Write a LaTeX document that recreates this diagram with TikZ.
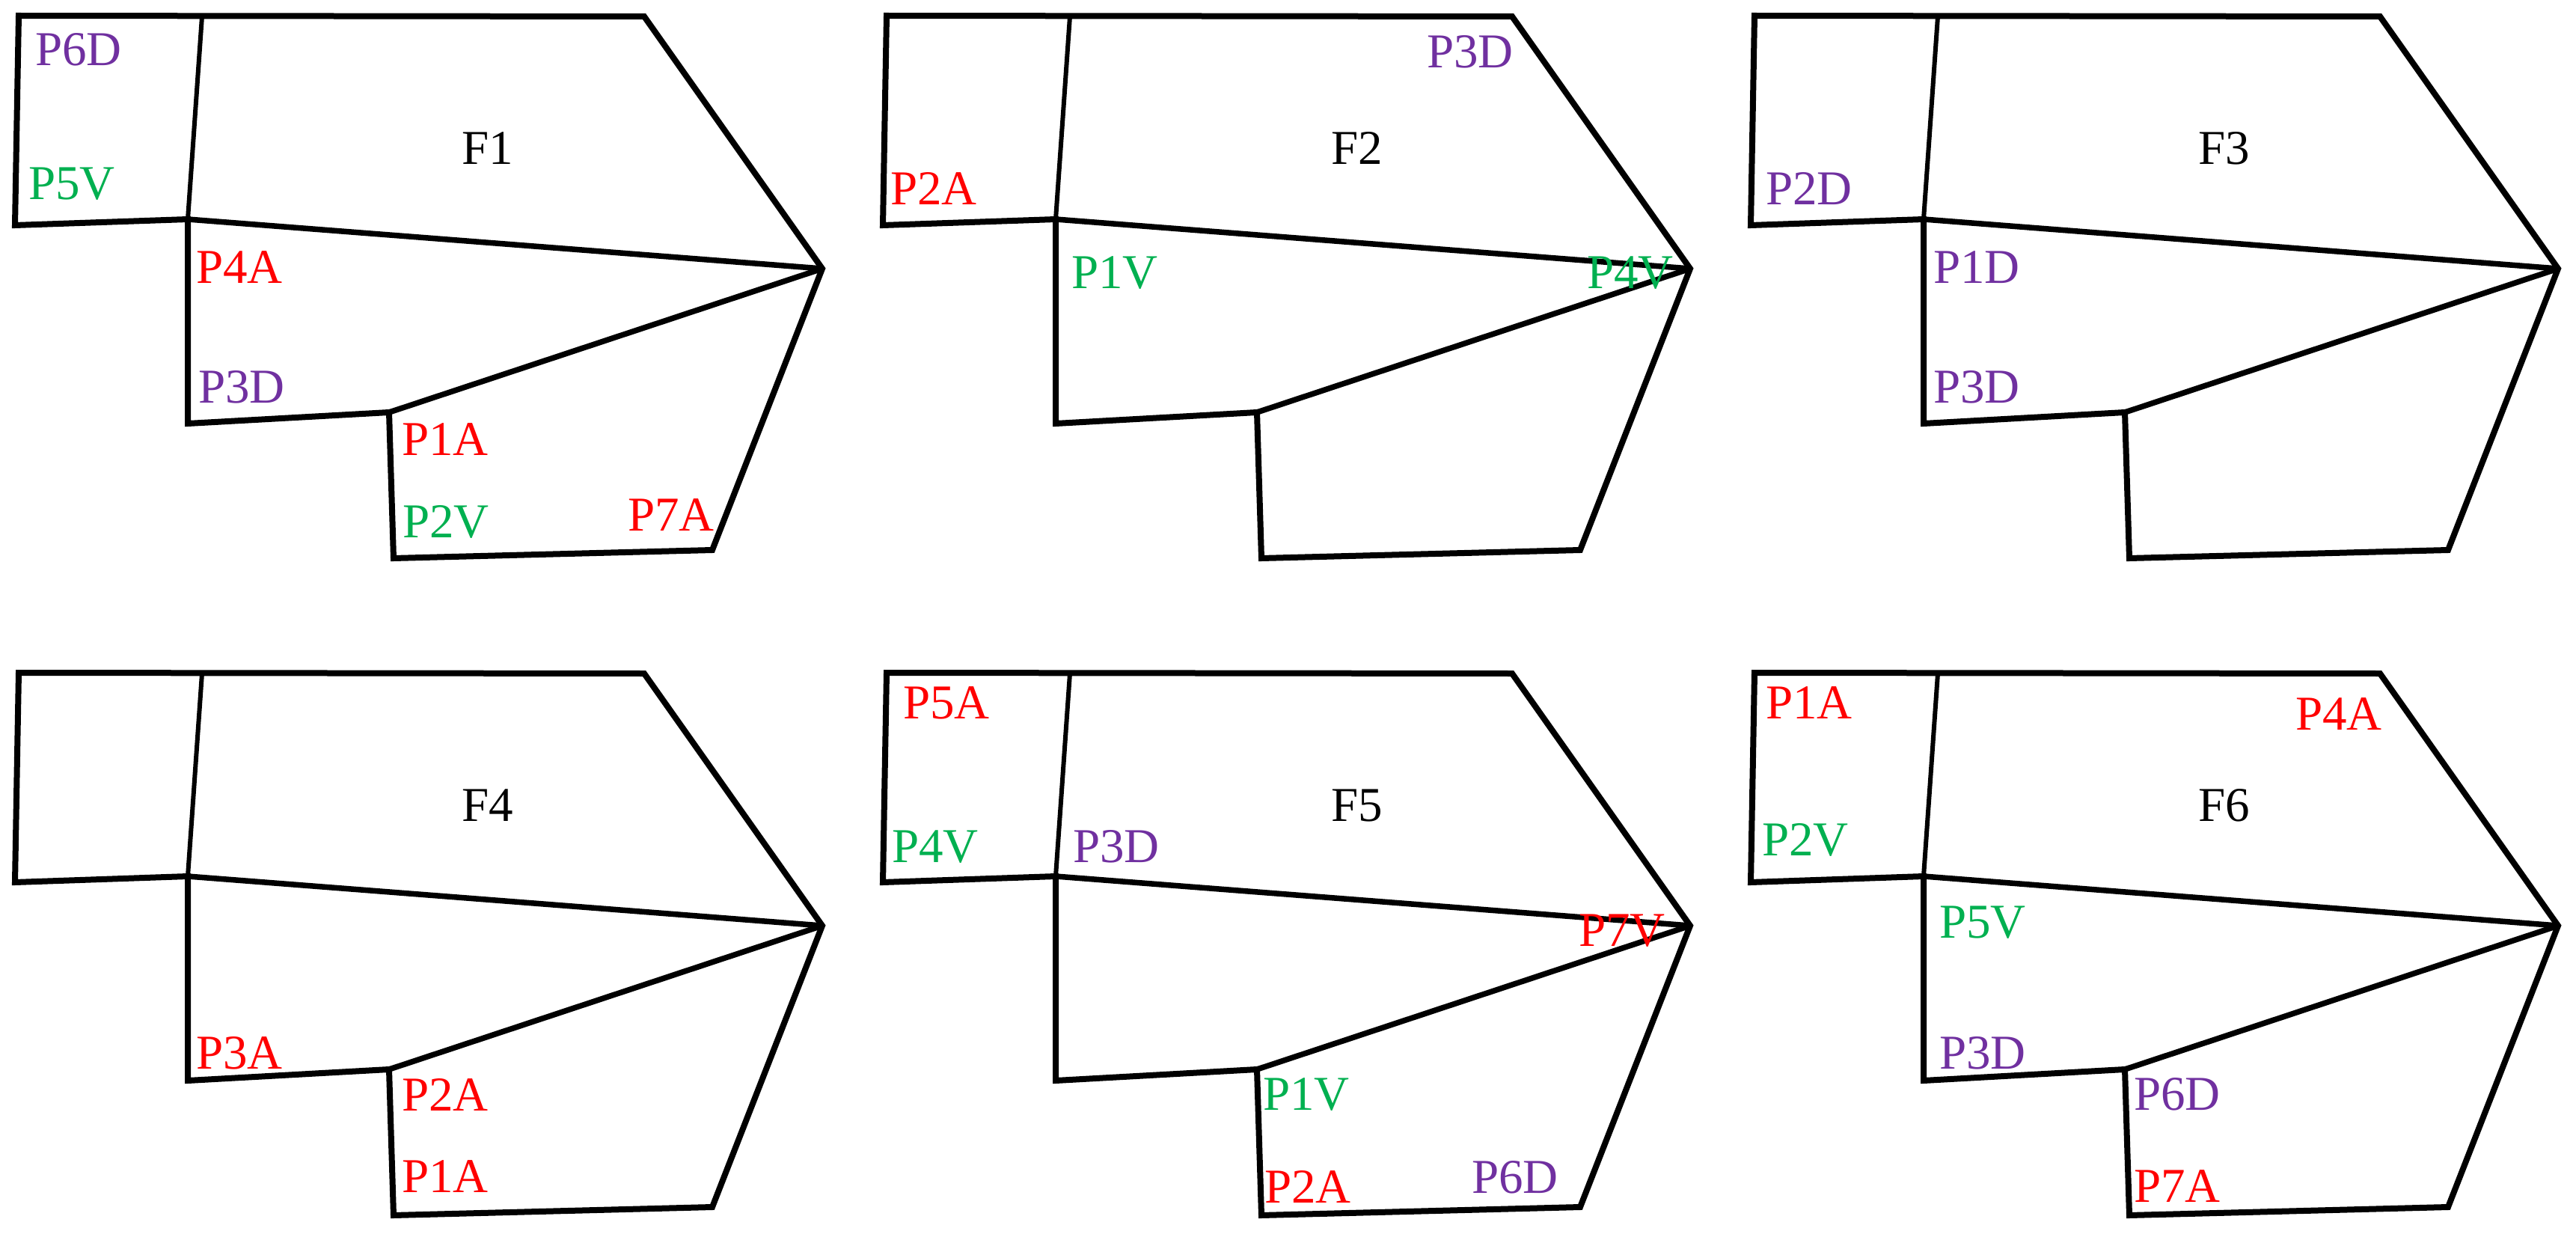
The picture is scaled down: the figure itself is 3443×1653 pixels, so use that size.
\documentclass[tikz,border=0pt]{standalone}
\usepackage{fontspec}
\setmainfont{Liberation Serif}
\definecolor{lred}{RGB}{255,0,0}
\definecolor{lgreen}{RGB}{0,176,80}
\definecolor{lpurple}{RGB}{112,48,160}
\tikzset{
 edgeline/.style={line width=8pt, line join=miter},
 innerline/.style={line width=7.5pt},
 thinline/.style={line width=6pt},
 lbl/.style={anchor=base west, inner sep=0pt, font=\fontsize{65}{65}\selectfont},
 ttl/.style={anchor=base, inner sep=0pt, font=\fontsize{65}{65}\selectfont, text=black},
 rd/.style={lbl,text=lred},
 gr/.style={lbl,text=lgreen},
 pu/.style={lbl,text=lpurple}
}
\newcommand\shapepanel[3]{%
 \begin{scope}[shift={(#1,#2)}]
 \coordinate (#3A) at (25,21);
 \coordinate (#3B) at (270,22);
 \coordinate (#3C) at (861,22);
 \coordinate (#3T) at (1099,359);
 \coordinate (#3D) at (952,735);
 \coordinate (#3E) at (526,746);
 \coordinate (#3G) at (520,551);
 \coordinate (#3H) at (251,566);
 \coordinate (#3J) at (251,293);
 \coordinate (#3K) at (20,301);
 \draw[thinline] (#3B) -- (#3J);
 \draw[innerline] (#3J) -- (#3T);
 \draw[innerline] (#3G) -- (#3T);
 \draw[edgeline] (#3A) -- (#3C) -- (#3T) -- (#3D) -- (#3E) -- (#3G) -- (#3H) -- (#3J) -- (#3K) -- cycle;
 \end{scope}}
\begin{document}
\begin{tikzpicture}[x=1pt,y=-1pt]
\useasboundingbox[fill=white] (0,0) rectangle (3443,1653);
\shapepanel{0}{0}{a}
\shapepanel{1160}{0}{b}
\shapepanel{2320}{0}{c}
\shapepanel{0}{878}{d}
\shapepanel{1160}{878}{e}
\shapepanel{2320}{878}{f}
% F1
\begin{scope}[shift={(0,0)}]
\node[ttl] (f1t) at (652,220) {F1};
\node[pu] (f1p6d) at (47,88) {P6D};
\node[gr] (f1p5v) at (38,267) {P5V};
\node[rd] (f1p4a) at (262,378) {P4A};
\node[pu] (f1p3d) at (265,538) {P3D};
\node[rd] (f1p1a) at (537,608) {P1A};
\node[gr] (f1p2v) at (538,718) {P2V};
\node[rd] (f1p7a) at (839,709) {P7A};
\end{scope}
% F2
\begin{scope}[shift={(1160,0)}]
\node[ttl] (f2t) at (654,220) {F2};
\node[pu] (f2p3d) at (747,91) {P3D};
\node[rd] (f2p2a) at (30,274) {P2A};
\node[gr] (f2p1v) at (272,385) {P1V};
\node[gr] (f2p4v) at (961,385) {P4V};
\end{scope}
% F3
\begin{scope}[shift={(2320,0)}]
\node[ttl] (f3t) at (653,220) {F3};
\node[pu] (f3p2d) at (40,274) {P2D};
\node[pu] (f3p1d) at (264,378) {P1D};
\node[pu] (f3p3d) at (264,538) {P3D};
\end{scope}
% F4
\begin{scope}[shift={(0,878)}]
\node[ttl] (f4t) at (652,219) {F4};
\node[rd] (f4p3a) at (262,550) {P3A};
\node[rd] (f4p2a) at (537,606) {P2A};
\node[rd] (f4p1a) at (537,715) {P1A};
\end{scope}
% F5
\begin{scope}[shift={(1160,878)}]
\node[ttl] (f5t) at (654,219) {F5};
\node[rd] (f5p5a) at (47,82) {P5A};
\node[gr] (f5p4v) at (32,274) {P4V};
\node[pu] (f5p3d) at (274,274) {P3D};
\node[rd] (f5p7v) at (950,386) {P7V};
\node[gr] (f5p1v) at (528,605) {P1V};
\node[rd] (f5p2a) at (530,729) {P2A};
\node[pu] (f5p6d) at (807,716) {P6D};
\end{scope}
% F6
\begin{scope}[shift={(2320,878)}]
\node[ttl] (f6t) at (653,219) {F6};
\node[rd] (f6p1a) at (40,82) {P1A};
\node[rd] (f6p4a) at (748,97) {P4A};
\node[gr] (f6p2v) at (35,265) {P2V};
\node[gr] (f6p5v) at (272,375) {P5V};
\node[pu] (f6p3d) at (272,550) {P3D};
\node[pu] (f6p6d) at (532,605) {P6D};
\node[rd] (f6p7a) at (532,728) {P7A};
\end{scope}
\end{tikzpicture}
\end{document}
